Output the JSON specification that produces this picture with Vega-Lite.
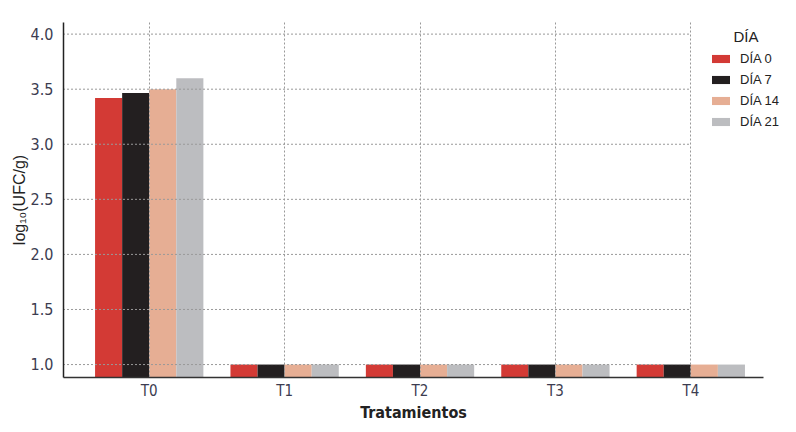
{
  "$schema": "https://vega.github.io/schema/vega-lite/v6.json",
  "width": 700,
  "height": 355,
  "autosize": {"type": "none"},
  "padding": {"left": 63, "top": 22, "right": 33, "bottom": 55},
  "background": "white",
  "datasets": {
    "bars": [
      {"trat": "T0", "dia": "DÍA 0", "val": 3.42},
      {"trat": "T0", "dia": "DÍA 7", "val": 3.466},
      {"trat": "T0", "dia": "DÍA 14", "val": 3.5},
      {"trat": "T0", "dia": "DÍA 21", "val": 3.6},
      {"trat": "T1", "dia": "DÍA 0", "val": 1.0},
      {"trat": "T1", "dia": "DÍA 7", "val": 1.0},
      {"trat": "T1", "dia": "DÍA 14", "val": 1.0},
      {"trat": "T1", "dia": "DÍA 21", "val": 1.0},
      {"trat": "T2", "dia": "DÍA 0", "val": 1.0},
      {"trat": "T2", "dia": "DÍA 7", "val": 1.0},
      {"trat": "T2", "dia": "DÍA 14", "val": 1.0},
      {"trat": "T2", "dia": "DÍA 21", "val": 1.0},
      {"trat": "T3", "dia": "DÍA 0", "val": 1.0},
      {"trat": "T3", "dia": "DÍA 7", "val": 1.0},
      {"trat": "T3", "dia": "DÍA 14", "val": 1.0},
      {"trat": "T3", "dia": "DÍA 21", "val": 1.0},
      {"trat": "T4", "dia": "DÍA 0", "val": 1.0},
      {"trat": "T4", "dia": "DÍA 7", "val": 1.0},
      {"trat": "T4", "dia": "DÍA 14", "val": 1.0},
      {"trat": "T4", "dia": "DÍA 21", "val": 1.0}
    ],
    "grid": [
      {"g": 1.0}, {"g": 1.5}, {"g": 2.0}, {"g": 2.5}, {"g": 3.0}, {"g": 3.5}, {"g": 4.0}
    ]
  },
  "layer": [
    {
      "data": {"name": "bars"},
      "mark": {"type": "bar"},
      "encoding": {
        "x": {
          "field": "trat",
          "type": "nominal",
          "scale": {"domain": ["T0", "T1", "T2", "T3", "T4"], "paddingInner": 0.2, "paddingOuter": 0.185, "align": 0.64},
          "axis": {
            "title": "Tratamientos",
            "labelAngle": 0,
            "grid": true,
            "gridDash": [2, 2],
            "gridColor": "#999999",
            "gridWidth": 1,
            "bandPosition": 0.5,
            "ticks": false,
            "zindex": 1,
            "labelPadding": 6,
            "labelBaseline": "top",
            "labelFont": "Liberation Sans Narrow, DejaVu Sans Condensed, sans-serif",
            "labelFontSize": 15,
            "labelColor": "#3c3c50",
            "titleFont": "Liberation Sans Narrow, DejaVu Sans Condensed, sans-serif",
            "titleFontSize": 16,
            "titleFontWeight": "bold",
            "titleColor": "#222222",
            "titlePadding": 6,
            "domainColor": "#333333",
            "domainWidth": 1.5
          }
        },
        "xOffset": {
          "field": "dia",
          "type": "nominal",
          "sort": ["DÍA 0", "DÍA 7", "DÍA 14", "DÍA 21"],
          "scale": {"paddingInner": 0, "paddingOuter": 0}
        },
        "y": {
          "field": "val",
          "type": "quantitative",
          "scale": {"domain": [0.887, 4.11], "zero": false, "nice": false},
          "axis": {
            "title": "log₁₀(UFC/g)",
            "values": [1, 1.5, 2, 2.5, 3, 3.5, 4],
            "format": ".1f",
            "grid": false,
            "ticks": false,
            "zindex": 1,
            "labelPadding": 10,
            "labelFont": "Liberation Sans Narrow, DejaVu Sans Condensed, sans-serif",
            "labelFontSize": 16,
            "labelColor": "#3c3c50",
            "titleFont": "Liberation Sans, Arial, sans-serif",
            "titleFontSize": 16,
            "titleFontWeight": "normal",
            "titleColor": "#222222",
            "titlePadding": 3,
            "domainColor": "#222222",
            "domainWidth": 1.5
          }
        },
        "y2": {"datum": 0.887},
        "color": {
          "field": "dia",
          "type": "nominal",
          "sort": ["DÍA 0", "DÍA 7", "DÍA 14", "DÍA 21"],
          "scale": {
            "domain": ["DÍA 0", "DÍA 7", "DÍA 14", "DÍA 21"],
            "range": ["#D33A35", "#231F20", "#E6AE94", "#BCBDC0"]
          },
          "legend": {
            "title": "DÍA",
            "orient": "none",
            "legendX": 649,
            "legendY": 8,
            "titleAnchor": "middle",
            "titleFont": "Liberation Sans, Arial, sans-serif",
            "titleFontSize": 15,
            "titleFontWeight": "normal",
            "titleColor": "#222222",
            "titlePadding": 5,
            "labelFont": "Liberation Sans, Arial, sans-serif",
            "labelFontSize": 13,
            "labelColor": "#222222",
            "labelOffset": 10,
            "symbolType": "M-1,-0.45H1V0.45H-1Z",
            "symbolSize": 324,
            "symbolStrokeWidth": 0,
            "rowPadding": 5
          }
        }
      }
    },
    {
      "data": {"name": "grid"},
      "mark": {"type": "rule", "color": "#999999", "strokeDash": [2, 2], "strokeWidth": 1},
      "encoding": {
        "y": {"field": "g", "type": "quantitative"},
        "x": {"datum": "T0", "bandPosition": -0.296},
        "x2": {"datum": "T4", "bandPosition": 0.5}
      }
    }
  ],
  "config": {"view": {"stroke": null}}
}
